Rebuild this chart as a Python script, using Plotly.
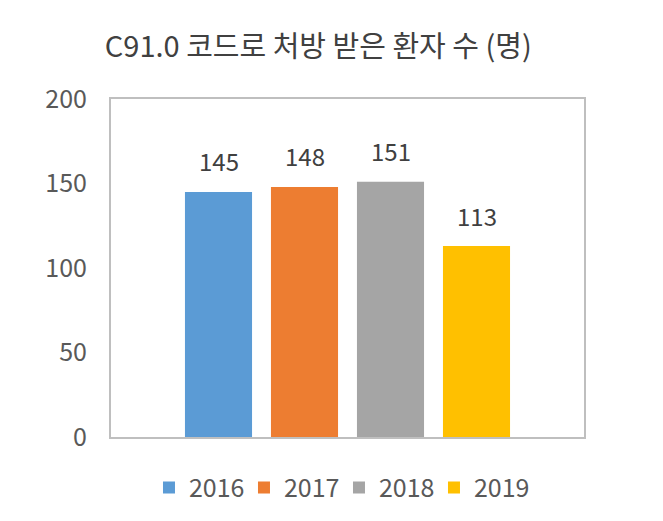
import plotly.graph_objects as go

# data
years = ["2016", "2017", "2018", "2019"]
patients = [145, 148, 151, 113]
colors = ["#5B9BD5", "#ED7D31", "#A5A5A5", "#FFC000"]
y_ticks = [0, 50, 100, 150, 200]

FONT = "Noto Sans CJK KR"

fig = go.Figure()
for yr, val, col in zip(years, patients, colors):
    fig.add_trace(
        go.Bar(
            x=[yr],
            y=[val],
            name=yr,
            marker=dict(color=col, line=dict(width=0)),
            cliponaxis=False,
        )
    )

# value labels above each bar (x = category index)
labels = [
    dict(
        x=i, y=val, xref="x", yref="y", text=str(val), showarrow=False,
        yanchor="middle", yshift=31,
        font=dict(size=24, color="#404040", family=FONT),
    )
    for i, val in enumerate(patients)
]

fig.update_layout(
    width=663,
    height=521,
    barmode="overlay",
    bargap=0.22,
    font=dict(family=FONT, color="#595959", size=24),
    title=dict(
        text="C91.0 코드로 처방 받은 환자 수 (명)",
        x=0.468,
        xanchor="center",
        y=0.925,
        yanchor="middle",
        font=dict(size=29, color="#404040", family=FONT),
    ),
    annotations=labels,
    margin=dict(l=103, r=87, t=91, b=92),
    plot_bgcolor="white",
    paper_bgcolor="white",
    showlegend=True,
    legend=dict(
        orientation="h",
        x=0.482,
        xanchor="center",
        y=-0.15,
        yanchor="middle",
        font=dict(size=25, color="#595959"),
        itemwidth=30,
        entrywidth=50,
        entrywidthmode="pixels",
        traceorder="normal",
    ),
)

fig.update_xaxes(
    type="category",
    range=[-1.25, 4.25],
    showticklabels=False,
    showgrid=False,
    zeroline=False,
    showline=True,
    mirror=True,
    linecolor="#BFBFBF",
    linewidth=2,
)
fig.update_yaxes(
    range=[0, 200],
    tickvals=y_ticks,
    showgrid=False,
    zeroline=False,
    showline=True,
    mirror=True,
    linecolor="#BFBFBF",
    linewidth=2,
    ticks="",
    ticklabelstandoff=17,
    tickfont=dict(size=25, color="#595959"),
)

fig.write_html("out.html")
